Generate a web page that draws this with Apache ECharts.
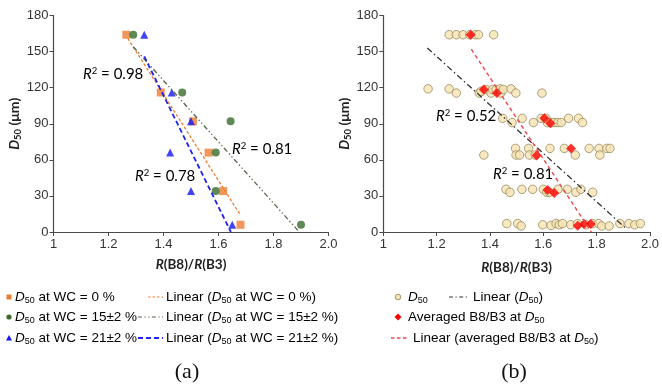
<!DOCTYPE html>
<html><head><meta charset="utf-8">
<script src="https://cdn.jsdelivr.net/npm/echarts@6/dist/echarts.min.js"></script>
<style>html,body{margin:0;padding:0;background:#fff}#c{width:662px;height:388px}</style>
</head><body><div id="c"></div>
<script>
// ---- tick labels ----
const xTickLabels = ['1', '1.2', '1.4', '1.6', '1.8', '2.0'];
const yTickLabels = ['0', '30', '60', '90', '120', '150', '180'];

// ---- panel (a) ----
const wc0X = [1.265, 1.39, 1.507, 1.564, 1.617, 1.68];
const wc0Y = [164, 116, 92, 66, 34, 6];
const wc15X = [1.29, 1.468, 1.644, 1.59, 1.59, 1.90];
const wc15Y = [164, 116, 92, 66, 34, 6];
const wc21X = [1.33, 1.43, 1.50, 1.424, 1.50, 1.65];
const wc21Y = [164, 116, 92, 66, 34, 6];
const trend0X = [1.27, 1.68];   const trend0Y = [161, 14];
const trend15X = [1.29, 1.89];  const trend15Y = [154, 1];
const trend21X = [1.33, 1.645]; const trend21Y = [146, 0];

// ---- panel (b) ----
const d50X = [
  1.247, 1.274, 1.299, 1.324, 1.345, 1.357, 1.414,
  1.168, 1.247, 1.274, 1.36, 1.367, 1.386, 1.404, 1.41, 1.423, 1.438, 1.44, 1.450, 1.479, 1.497, 1.595,
  1.448, 1.483, 1.521, 1.563, 1.592, 1.610, 1.615, 1.629, 1.64, 1.654, 1.667, 1.695, 1.732, 1.747,
  1.377, 1.496, 1.498, 1.511, 1.545, 1.548, 1.57, 1.625, 1.679, 1.720, 1.772, 1.809, 1.812, 1.838, 1.850,
  1.46, 1.475, 1.52, 1.56, 1.60, 1.613, 1.623, 1.655, 1.69, 1.722, 1.741, 1.785,
  1.463, 1.504, 1.517, 1.598, 1.629, 1.648, 1.660, 1.672, 1.703, 1.728, 1.760, 1.785, 1.807, 1.819, 1.847, 1.887, 1.921, 1.943, 1.964
];
const d50Y = [
  164, 164, 164, 164, 164, 164, 164,
  119, 119, 115.5, 115.5, 117, 118.5, 115.5, 118.5, 118.5, 119, 115.5, 118.5, 119, 115.5, 115.5,
  94.5, 91, 94.5, 91, 94.5, 94.5, 91, 91, 91, 91, 91, 94.5, 94.5, 91,
  64, 69.5, 64, 64, 69.5, 64, 64, 69.5, 69.5, 64, 69.5, 69.5, 64, 69.5, 69.5,
  35.5, 33, 35.5, 35.5, 35.5, 33, 33, 35.5, 35.5, 33, 35.5, 33,
  7, 7, 5, 6, 5.5, 7, 6, 7, 6, 7, 6, 7, 7, 5, 5, 7, 7, 6, 7
];
const avgX = [1.3275, 1.377, 1.426, 1.604, 1.626, 1.575, 1.704, 1.616, 1.641, 1.729, 1.753, 1.778];
const avgY = [164, 118.5, 115.5, 94.5, 90.5, 63.5, 69.5, 35, 32.5, 5.3, 6.6, 6.6];
const trendAllX = [1.165, 1.915]; const trendAllY = [153, 2];
const trendAvgX = [1.33, 1.78];   const trendAvgY = [152, 0];

const zip = (xs, ys) => xs.map((x, i) => [x, ys[i]]);

const SANS = 'Liberation Sans, Arial, sans-serif';
const CAL = 'Lato, Liberation Sans, sans-serif';

function xAxisOf(gi, gap) {
  return {
    gridIndex: gi, type: 'value', min: 1, max: 2, interval: 0.2,
    axisLine: { show: true, lineStyle: { color: '#4a4a4a', width: 1.2 } },
    axisTick: { show: true, inside: false, length: 4, lineStyle: { color: '#4a4a4a' } },
    splitLine: { show: false },
    axisLabel: {
      color: '#333', fontSize: 13, fontFamily: SANS, margin: 6,
      formatter: v => { const i = Math.round((v - 1) / 0.2); return xTickLabels[i] ?? ''; }
    },
    name: '{bi|R}{b|(B8)/}{bi|R}{b|(B3)}', nameLocation: 'middle', nameGap: gap,
    nameTextStyle: {
      rich: {
        b: { fontFamily: CAL, fontWeight: 'bold', fontSize: 13.5, color: '#222' },
        bi: { fontFamily: CAL, fontWeight: 'bold', fontStyle: 'italic', fontSize: 13.5, color: '#222' }
      }
    }
  };
}
function yAxisOf(gi) {
  return {
    gridIndex: gi, type: 'value', min: 0, max: 180, interval: 30,
    axisLine: { show: true, lineStyle: { color: '#4a4a4a', width: 1.2 } },
    axisTick: { show: true, inside: false, length: 4, lineStyle: { color: '#4a4a4a' } },
    splitLine: { show: false },
    axisLabel: {
      color: '#333', fontSize: 13, fontFamily: SANS, margin: 5,
      formatter: v => { const i = Math.round(v / 30); return yTickLabels[i] ?? ''; }
    },
    name: '{bi|D}{sub|50}{b| (μm)}', nameLocation: 'middle', nameRotate: 90, nameGap: 27,
    nameTextStyle: {
      rich: {
        b: { fontFamily: CAL, fontWeight: 'bold', fontSize: 14, color: '#222', lineHeight: 16 },
        bi: { fontFamily: CAL, fontWeight: 'bold', fontStyle: 'italic', fontSize: 14, color: '#222', lineHeight: 16 },
        sub: { fontFamily: CAL, fontWeight: 'bold', fontSize: 9.5, color: '#222', lineHeight: 10, verticalAlign: 'bottom' }
      }
    }
  };
}

const base = { animation: false, silent: true };
const series = [
  Object.assign({ type: 'scatter', xAxisIndex: 0, yAxisIndex: 0, data: zip(wc0X, wc0Y), symbol: 'rect', symbolSize: 8, itemStyle: { color: '#ED7D31' } }, base),
  Object.assign({ type: 'scatter', xAxisIndex: 0, yAxisIndex: 0, data: zip(wc15X, wc15Y), symbol: 'circle', symbolSize: 8, itemStyle: { color: '#3A6B2A' } }, base),
  Object.assign({ type: 'scatter', xAxisIndex: 0, yAxisIndex: 0, data: zip(wc21X, wc21Y), symbol: 'triangle', symbolSize: 8, itemStyle: { color: '#1515F5' } }, base),
  Object.assign({ type: 'line', xAxisIndex: 0, yAxisIndex: 0, data: zip(trend0X, trend0Y), symbol: 'none', lineStyle: { color: '#ED7D31', width: 1.3, type: [3, 2] } }, base),
  Object.assign({ type: 'line', xAxisIndex: 0, yAxisIndex: 0, data: zip(trend15X, trend15Y), symbol: 'none', lineStyle: { color: '#55664a', width: 1.3, type: [5, 2.5, 1.3, 2.5, 1.3, 2.5] } }, base),
  Object.assign({ type: 'line', xAxisIndex: 0, yAxisIndex: 0, data: zip(trend21X, trend21Y), symbol: 'none', lineStyle: { color: '#2222EE', width: 1.8, type: [5, 3] } }, base),

  Object.assign({ type: 'scatter', xAxisIndex: 1, yAxisIndex: 1, data: zip(d50X, d50Y), symbol: 'circle', symbolSize: 8.5, itemStyle: { color: '#F8E3B4', borderColor: '#8F8050', borderWidth: 0.9 } }, base),
  Object.assign({ type: 'line', xAxisIndex: 1, yAxisIndex: 1, data: zip(trendAllX, trendAllY), symbol: 'none', lineStyle: { color: '#333', width: 1.3, type: [6, 3, 1.5, 3] } }, base),
  Object.assign({ type: 'scatter', xAxisIndex: 1, yAxisIndex: 1, data: zip(avgX, avgY), symbol: 'diamond', symbolSize: 10, itemStyle: { color: '#FF0000' } }, base),
  Object.assign({ type: 'line', xAxisIndex: 1, yAxisIndex: 1, data: zip(trendAvgX, trendAvgY), symbol: 'none', lineStyle: { color: '#F04848', width: 1.4, type: [4, 3] } }, base)
];

// ---- text helpers ----
const legRich = {
  n: { fontFamily: SANS, fontSize: 13.5, color: '#262626', lineHeight: 16 },
  i: { fontFamily: SANS, fontSize: 13.5, fontStyle: 'italic', color: '#262626', lineHeight: 16 },
  s: { fontFamily: SANS, fontSize: 9, color: '#262626', lineHeight: 10, verticalAlign: 'bottom' }
};
function txt(x, y, text, rich) {
  return { type: 'text', x: x, y: y, silent: true, style: { text: text, rich: rich || legRich, align: 'left', verticalAlign: 'middle' } };
}
function r2(x, y, val, color) {
  const rich = {
    r: { fontFamily: CAL, fontSize: 15, fontStyle: 'italic', color: color, lineHeight: 16 },
    p: { fontFamily: CAL, fontSize: 9.5, color: color, lineHeight: 10, verticalAlign: 'top' },
    t: { fontFamily: CAL, fontSize: 15, color: color, lineHeight: 16 }
  };
  return txt(x, y, '{r|R}{p|2}{t| = ' + val + '}', rich);
}
function dline(x1, x2, y, color, w, dash) {
  return { type: 'line', silent: true, shape: { x1: x1, y1: y, x2: x2, y2: y }, style: { stroke: color, lineWidth: w, lineDash: dash } };
}

const rowY = [297, 317, 338];
const graphic = [
  r2(83, 74, '0.98', '#D4862F'),
  r2(232, 149, '0.81', '#3E7A2E'),
  r2(135, 176, '0.78', '#5A5AD0'),
  r2(436, 116, '0.52', '#222'),
  r2(493, 174, '0.81', '#D9404F'),

  // legend (a)
  { type: 'rect', silent: true, shape: { x: 6.5, y: rowY[0] - 2.5, width: 5, height: 5 }, style: { fill: '#ED7D31' } },
  { type: 'circle', silent: true, shape: { cx: 9, cy: rowY[1], r: 2.6 }, style: { fill: '#3A6B2A' } },
  { type: 'polygon', silent: true, shape: { points: [[9, rowY[2] - 3], [12, rowY[2] + 2.5], [6, rowY[2] + 2.5]] }, style: { fill: '#1515F5' } },
  txt(15, rowY[0], '{i|D}{s|50}{n| at WC = 0 %}'),
  txt(15, rowY[1], '{i|D}{s|50}{n| at WC = 15±2 %}'),
  txt(15, rowY[2], '{i|D}{s|50}{n| at WC = 21±2 %}'),
  dline(148, 163, rowY[0], '#ED7D31', 1.2, [2.5, 2]),
  dline(138, 163, rowY[1], '#55664a', 1.2, [4, 2.5, 1.2, 2.5, 1.2, 2.5]),
  dline(138, 163, rowY[2], '#2222EE', 1.8, [5, 3]),
  txt(166, rowY[0], '{n|Linear (}{i|D}{s|50}{n| at WC = 0 %)}'),
  txt(166, rowY[1], '{n|Linear (}{i|D}{s|50}{n| at WC = 15±2 %)}'),
  txt(166, rowY[2], '{n|Linear (}{i|D}{s|50}{n| at WC = 21±2 %)}'),

  // legend (b)
  { type: 'circle', silent: true, shape: { cx: 398, cy: rowY[0], r: 2.8 }, style: { fill: '#F8E3B4', stroke: '#8F8050', lineWidth: 0.8 } },
  txt(408, rowY[0], '{i|D}{s|50}'),
  dline(449, 468, rowY[0], '#333', 1.2, [4, 2.5, 1.2, 2.5]),
  txt(473, rowY[0], '{n|Linear (}{i|D}{s|50}{n|)}'),
  { type: 'polygon', silent: true, shape: { points: [[398, rowY[1] - 3.5], [401.5, rowY[1]], [398, rowY[1] + 3.5], [394.5, rowY[1]]] }, style: { fill: '#FF0000' } },
  txt(408, rowY[1], '{n|Averaged B8/B3 at }{i|D}{s|50}'),
  dline(391, 409, rowY[2], '#F04848', 1.3, [3.5, 2.5]),
  txt(413, rowY[2], '{n|Linear (averaged B8/B3 at }{i|D}{s|50}{n|)}'),

  // captions
  { type: 'text', x: 187, y: 372, silent: true, style: { text: '(a)', font: '22px Liberation Serif, Times New Roman, serif', fill: '#111', align: 'center', verticalAlign: 'middle' } },
  { type: 'text', x: 514, y: 372, silent: true, style: { text: '(b)', font: '22px Liberation Serif, Times New Roman, serif', fill: '#111', align: 'center', verticalAlign: 'middle' } }
];

const chart = echarts.init(document.getElementById('c'), null, { renderer: 'canvas' });
chart.setOption({
  animation: false,
  backgroundColor: '#fff',
  grid: [
    { left: 53.5, top: 15.5, width: 275, height: 216.5, containLabel: false },
    { left: 383.3, top: 15.5, width: 267.7, height: 216.5, containLabel: false }
  ],
  xAxis: [xAxisOf(0, 26), xAxisOf(1, 29)],
  yAxis: [yAxisOf(0), yAxisOf(1)],
  series: series,
  graphic: graphic
});
</script>
</body></html>
